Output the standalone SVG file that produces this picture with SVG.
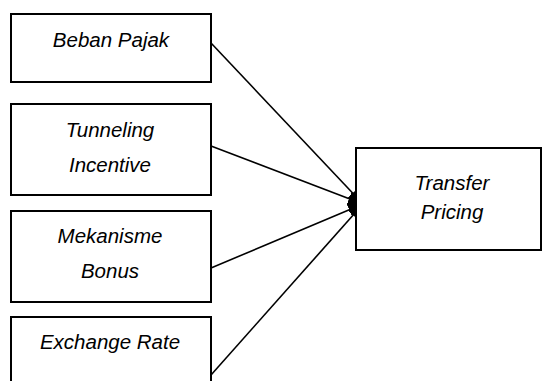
<svg xmlns="http://www.w3.org/2000/svg" width="543" height="381" viewBox="0 0 543 381">
  <style>
    .box { fill: #ffffff; stroke: #000000; stroke-width: 2; }
    .lbl { font-family: "Liberation Sans", Arial, sans-serif; font-style: italic; font-size: 20.5px; fill: #000000; text-anchor: middle; }
    .conn { stroke: #000000; stroke-width: 1.6; fill: none; marker-end: url(#arrow); }
  </style>
  <defs>
    <marker id="arrow" markerUnits="userSpaceOnUse" markerWidth="16" markerHeight="14" refX="15" refY="7" orient="auto">
      <path d="M0,0 L15,7 L0,14 z" fill="#000000"/>
    </marker>
  </defs>
  <rect x="0" y="0" width="543" height="381" fill="#ffffff"/>
  <g id="connectors">
    <line class="conn" x1="211" y1="43" x2="363" y2="204"/>
    <line class="conn" x1="211" y1="146" x2="363" y2="204"/>
    <line class="conn" x1="211" y1="268" x2="363" y2="204"/>
    <line class="conn" x1="211" y1="375" x2="363" y2="204"/>
  </g>
  <g id="node-beban-pajak">
    <rect class="box" x="11" y="14" width="200" height="68"/>
    <text class="lbl" x="111" y="47">Beban Pajak</text>
  </g>
  <g id="node-tunneling-incentive">
    <rect class="box" x="11" y="104" width="200" height="91"/>
    <text class="lbl" x="110" y="137">Tunneling</text>
    <text class="lbl" x="110" y="172">Incentive</text>
  </g>
  <g id="node-mekanisme-bonus">
    <rect class="box" x="11" y="211" width="200" height="91"/>
    <text class="lbl" x="110" y="243">Mekanisme</text>
    <text class="lbl" x="110" y="278">Bonus</text>
  </g>
  <g id="node-exchange-rate">
    <rect class="box" x="11" y="317" width="200" height="80"/>
    <text class="lbl" x="110" y="349">Exchange Rate</text>
  </g>
  <g id="node-transfer-pricing">
    <rect class="box" x="356" y="148" width="185" height="102"/>
    <text class="lbl" x="452" y="190">Transfer</text>
    <text class="lbl" x="452" y="219">Pricing</text>
  </g>
</svg>
